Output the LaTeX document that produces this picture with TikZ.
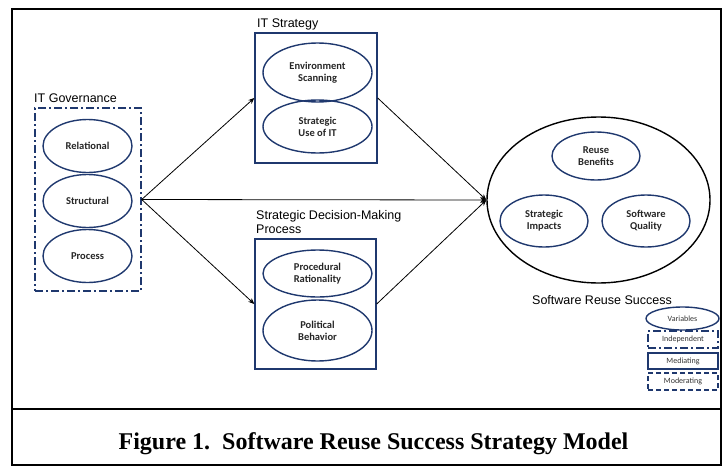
\documentclass[tikz,border=0pt]{standalone}
\usepackage{fontspec}
\setmainfont{Liberation Serif}
\setsansfont{Liberation Sans}
\newfontfamily\calib{Carlito}
\usetikzlibrary{shapes.geometric,arrows.meta}
\definecolor{navy}{RGB}{31,56,110}
\begin{document}
\begin{tikzpicture}[x=1pt,y=-1pt,
 inell/.style={ellipse, draw=navy, line width=1.4pt, inner sep=0pt, font=\calib\bfseries\fontsize{10.5}{12}\selectfont, align=center, text=black!85},
 grpbox/.style={draw=navy, line width=1.4pt, inner sep=0pt},
 dashdot/.style={dash pattern=on 8pt off 3pt on 2pt off 3pt},
 lbl/.style={font=\sffamily\fontsize{12.5}{14}\selectfont, anchor=base west, inner sep=0pt},
 legtext/.style={font=\calib\fontsize{8}{9}\selectfont, text=black!80},
 conn/.style={draw=black, line width=0.8pt, -{Stealth[length=6pt,width=5pt]}}
]
\useasboundingbox (0,0) rectangle (722,466);
\draw[line width=2pt] (12,9) rectangle (721,465);
\draw[line width=2pt] (12,409) -- (721,409);

% IT Governance
\node[lbl] (govlbl) at (34,102) {IT Governance};
\node[grpbox, dashdot, minimum width=106pt, minimum height=183pt] (gov) at (88,199.5) {};
\node[inell, minimum width=89pt, minimum height=53pt] (rel) at (87.5,146) {Relational};
\node[inell, minimum width=89pt, minimum height=53pt] (struc) at (87.5,201) {Structural};
\node[inell, minimum width=89pt, minimum height=53pt] (proc) at (87.5,256) {Process};

% IT Strategy
\node[lbl] (itslbl) at (257,27) {IT Strategy};
\node[grpbox, minimum width=122pt, minimum height=130pt] (its) at (316,98) {};
\node[inell, minimum width=109pt, minimum height=59pt] (env) at (317.5,72.5) {Environment\\Scanning};
\node[inell, minimum width=109pt, minimum height=53pt] (suit) at (317.5,126.5) {Strategic\\Use of IT};

% Strategic Decision-Making Process
\node[lbl] (sdmlbl1) at (256,219) {Strategic Decision-Making};
\node[lbl] (sdmlbl2) at (256,233) {Process};
\node[grpbox, minimum width=121pt, minimum height=130pt] (sdm) at (315.5,304) {};
\node[inell, minimum width=109pt, minimum height=47pt] (pr) at (317.5,273.5) {Procedural\\Rationality};
\node[inell, minimum width=109pt, minimum height=61pt] (pb) at (317.5,330.5) {Political\\Behavior};

% Software Reuse Success
\node[ellipse, draw=black, line width=1.4pt, minimum width=223pt, minimum height=166pt, inner sep=0pt] (sus) at (598.5,200) {};
\node[inell, minimum width=88pt, minimum height=48pt] (rb) at (596,156) {Reuse\\Benefits};
\node[inell, minimum width=88pt, minimum height=52pt] (si) at (544,221) {Strategic\\Impacts};
\node[inell, minimum width=88pt, minimum height=52pt] (sq) at (646,221) {Software\\Quality};
\node[lbl] (suslbl) at (532,304) {Software Reuse Success};

% Legend
\node[ellipse, draw=navy, line width=1.4pt, minimum width=73pt, minimum height=23pt, inner sep=0pt, legtext] (lv) at (682.5,318.5) {Variables};
\node[grpbox, dashdot, minimum width=70pt, minimum height=17pt, legtext] (li) at (683,339.5) {Independent};
\node[grpbox, minimum width=70pt, minimum height=16pt, legtext] (lm) at (683,361) {Mediating};
\node[grpbox, dash pattern=on 5pt off 3pt, minimum width=70pt, minimum height=17pt, legtext] (lmo) at (683,381.5) {Moderating};

% Connectors
\draw[conn] (gov.east) -- (its.west);
\draw[conn] (gov.east) -- (sdm.west);
\draw[conn] (gov.east) -- (sus.west);
\draw[conn] (its.east) -- (sus.west);
\draw[conn] (sdm.east) -- (sus.west);

% Caption
\node[font=\bfseries\fontsize{24}{26}\selectfont, anchor=base, inner sep=0pt] (cap) at (373.5,449) {Figure 1.\ \ Software Reuse Success Strategy Model};
\end{tikzpicture}
\end{document}
